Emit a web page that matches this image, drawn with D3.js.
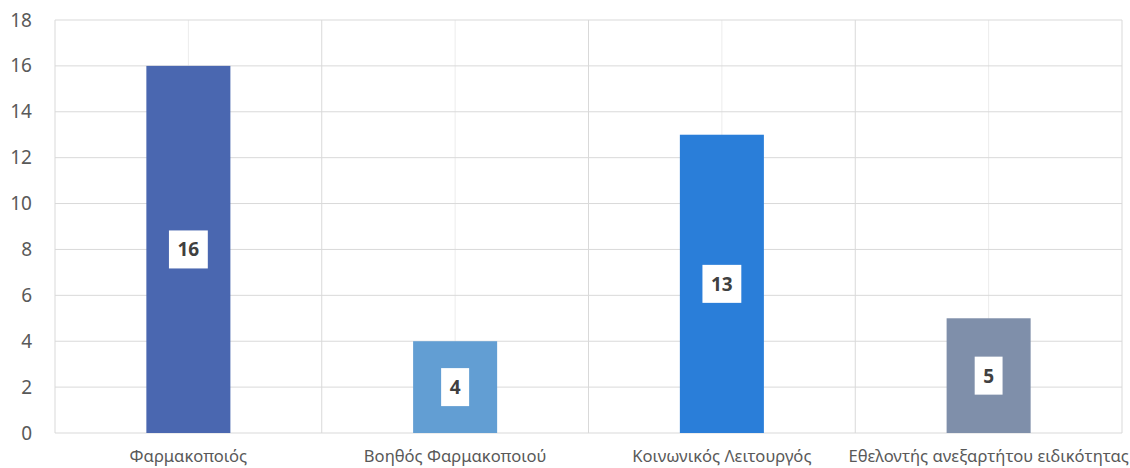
<!DOCTYPE html>
<html><head><meta charset="utf-8">
<script src="https://cdn.jsdelivr.net/npm/d3@7"></script>
<style>body{margin:0;background:#fff}svg{display:block}</style>
</head><body><svg id="c" width="1130" height="468"></svg>
<script>
const categories = ["Φαρμακοποιός","Βοηθός Φαρμακοποιού","Κοινωνικός Λειτουργός","Εθελοντής ανεξαρτήτου ειδικότητας"];
const values = [16,4,13,5];
const barColors = ["#4A67B0","#629ED3","#2A7ED9","#7F8FAA"];
const yTicks = [0,2,4,6,8,10,12,14,16,18];

const svg = d3.select("#c");
const m = {l:55,r:8,t:20,b:35};
const W = 1130, H = 468;
const x = d3.scaleBand().domain(categories).range([m.l, W-m.r]).paddingInner(0).paddingOuter(0);
const y = d3.scaleLinear().domain([0,18]).range([H-m.b, m.t]);
const font = "'Noto Sans', 'Open Sans', sans-serif";

svg.append("g").selectAll("line").data(categories).join("line")
  .attr("x1",d=>x(d)+x.bandwidth()/2).attr("x2",d=>x(d)+x.bandwidth()/2)
  .attr("y1",y(0)).attr("y2",y(18)).attr("stroke","#ececec").attr("stroke-width",1);
const edges = categories.map(d=>x(d)).concat([x(categories[categories.length-1])+x.bandwidth()]);
svg.append("g").selectAll("line").data(edges).join("line")
  .attr("x1",d=>d).attr("x2",d=>d).attr("y1",y(0)).attr("y2",y(18))
  .attr("stroke","#d9d9d9").attr("stroke-width",1);
svg.append("g").selectAll("line").data(yTicks).join("line")
  .attr("x1",m.l).attr("x2",W-m.r).attr("y1",d=>y(d)).attr("y2",d=>y(d))
  .attr("stroke","#d9d9d9").attr("stroke-width",1);

const yAxis = d3.axisLeft(y).tickValues(yTicks).tickSize(0).tickPadding(0);
const ga = svg.append("g").attr("transform",`translate(${m.l-23},0)`).call(yAxis);
ga.select(".domain").remove();
ga.selectAll("text").attr("font-family",font).attr("font-size",19).attr("fill","#595959");

const xAxis = d3.axisBottom(x).tickSize(0).tickPadding(0);
const gx = svg.append("g").attr("transform",`translate(0,${H-m.b+17})`).call(xAxis);
gx.select(".domain").remove();
gx.selectAll("text").attr("font-family",font).attr("font-size",16.6).attr("fill","#595959");

const bw = x.bandwidth()*0.315;
svg.append("g").selectAll("rect").data(values).join("rect")
  .attr("x",(d,i)=>x(categories[i])+x.bandwidth()/2-bw/2)
  .attr("width",bw)
  .attr("y",d=>y(d)).attr("height",d=>y(0)-y(d))
  .attr("fill",(d,i)=>barColors[i]);

const lg = svg.append("g");
values.forEach((v,i)=>{
  const cx = x(categories[i])+x.bandwidth()/2, cy = y(v/2);
  const t = lg.append("text").attr("x",cx).attr("y",cy).attr("text-anchor","middle")
    .attr("dominant-baseline","central").attr("font-family",font).attr("font-weight","bold")
    .attr("font-size",19).attr("fill","#404040").text(v);
  const bb = t.node().getBBox();
  lg.insert("rect","text").attr("x",cx-(bb.width+17)/2).attr("y",cy-19).attr("width",bb.width+17).attr("height",38).attr("fill","#fff");
});
</script></body></html>
